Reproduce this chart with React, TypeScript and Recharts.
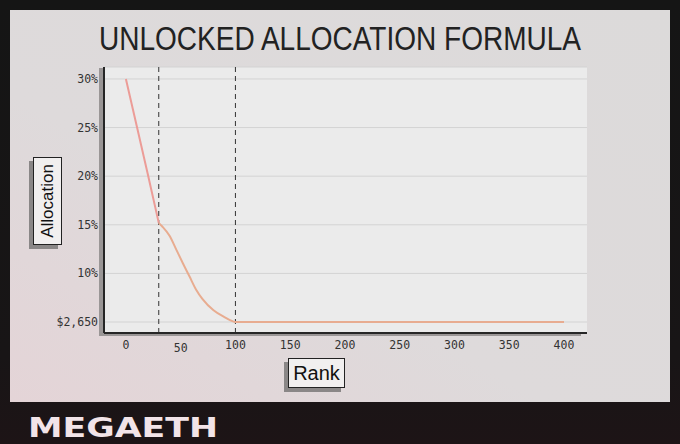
import { LineChart, Line, XAxis, YAxis, CartesianGrid, ReferenceLine } from "recharts"

// rank -> unlocked allocation (5 = the $2,650 floor)
const ranks = [0, 10, 20, 30, 33, 40, 46, 52, 58, 64, 70, 80, 90, 95, 100, 150, 200, 250, 300, 350, 400]
const allocation = [30, 25.1, 20.2, 15.2, 14.85, 13.85, 12.45, 11.05, 9.7, 8.35, 7.35, 6.2, 5.5, 5.2, 5.0, 5, 5, 5, 5, 5, 5]

const xTicks = [0, 50, 100, 150, 200, 250, 300, 350, 400]
const yTicks = [5, 10, 15, 20, 25, 30]
const yTickLabels: Record<number, string> = {
  5: "$2,650",
  10: "10%",
  15: "15%",
  20: "20%",
  25: "25%",
  30: "30%",
}
const thresholds = [30, 100]
const firstBreak = thresholds[0]

// straight part up to the first threshold, smooth curve after it
const data = ranks.map((rank, i) => ({
  rank,
  head: rank <= firstBreak ? allocation[i] : null,
  tail: rank >= firstBreak ? allocation[i] : null,
}))

const mono = "'DejaVu Sans Mono', 'Liberation Mono', monospace"

const XTick = ({ x, y, payload }: { x?: number; y?: number; payload?: { value: number } }) => {
  const v = payload?.value ?? 0
  // the "50" label sits a little lower in the original
  const dy = v === 50 ? 3 : 0
  return (
    <text x={x} y={(y ?? 0) + dy} dy="0.71em" textAnchor="middle" fontFamily={mono} fontSize={11.5} fill="#333">
      {v}
    </text>
  )
}

const boxStyle = (left: number, top: number, w: number, h: number): React.CSSProperties => ({
  position: "absolute",
  left,
  top,
  width: w,
  height: h,
  boxSizing: "border-box",
  border: "1.5px solid #222",
  background: "#f1efef",
  boxShadow: "-4px 4px 0 #8a8787",
  display: "flex",
  alignItems: "center",
  justifyContent: "center",
  fontFamily: "'Liberation Sans', Arial, sans-serif",
  color: "#111",
})

export default function App() {
  return (
    <div
      style={{
        position: "fixed",
        left: 0,
        top: 0,
        width: 680,
        height: 444,
        overflow: "hidden",
        background: "linear-gradient(180deg, #151515 0%, #181516 80%, #1d1416 100%)",
      }}
    >
      <div
        style={{
          position: "absolute",
          left: 10,
          top: 10,
          width: 660,
          height: 392,
          background: "linear-gradient(30deg, #e4d4d7 0%, #dedadb 40%, #dcdada 100%)",
        }}
      />
      {/* drop shadow behind the axes */}
      <div style={{ position: "absolute", left: 99, top: 68, width: 482, height: 268, background: "#9a9696" }} />
      <svg width={680} height={70} style={{ position: "absolute", left: 0, top: 0 }}>
        <text
          x={99}
          y={50}
          textLength={482}
          lengthAdjust="spacingAndGlyphs"
          fontFamily="'Liberation Sans', Arial, sans-serif"
          fontSize={32.5}
          fill="#222"
        >
          UNLOCKED ALLOCATION FORMULA
        </text>
      </svg>

      <div style={{ position: "absolute", left: 0, top: 0 }}>
        <LineChart width={680} height={444} data={data} margin={{ top: 67, right: 93, bottom: 81, left: 0 }}>
          <CartesianGrid vertical={false} stroke="#d3d3d3" fill="#ebebeb" />
          <XAxis
            dataKey="rank"
            type="number"
            domain={[-20, 421]}
            ticks={xTicks}
            interval={0}
            tickSize={0}
            tickMargin={8}
            height={30}
            tick={<XTick />}
            axisLine={{ stroke: "#262626", strokeWidth: 2 }}
            allowDataOverflow
          />
          <YAxis
            type="number"
            domain={[3.87, 31.23]}
            ticks={yTicks}
            interval={0}
            width={104}
            tickSize={0}
            tickMargin={6}
            tickFormatter={(v: number) => yTickLabels[v] ?? ""}
            tick={{ fontFamily: mono, fontSize: 11.5, fill: "#333" }}
            axisLine={{ stroke: "#262626", strokeWidth: 2 }}
            allowDataOverflow
          />
          {thresholds.map((t) => (
            <ReferenceLine key={t} x={t} stroke="#333" strokeDasharray="5 4" strokeWidth={1} />
          ))}
          <Line
            type="linear"
            dataKey="head"
            stroke="#ec9c97"
            strokeWidth={2}
            dot={false}
            connectNulls={false}
            isAnimationActive={false}
          />
          <Line
            type="monotone"
            dataKey="tail"
            stroke="#e8ac90"
            strokeWidth={2}
            dot={false}
            connectNulls={false}
            isAnimationActive={false}
          />
        </LineChart>
      </div>

      <div style={boxStyle(33, 157, 29, 88)}>
        <span style={{ transform: "rotate(-90deg)", fontSize: 17, whiteSpace: "nowrap" }}>Allocation</span>
      </div>
      <div style={{ ...boxStyle(288, 358, 57, 30), fontSize: 20 }}>Rank</div>

      <svg width={680} height={44} style={{ position: "absolute", left: 0, top: 400 }}>
        <text
          x={28}
          y={37}
          textLength={190}
          lengthAdjust="spacingAndGlyphs"
          fontFamily="'DejaVu Sans', sans-serif"
          fontWeight={900}
          fontSize={26}
          fill="#f2e4e8"
        >
          MEGAETH
        </text>
      </svg>
    </div>
  )
}
